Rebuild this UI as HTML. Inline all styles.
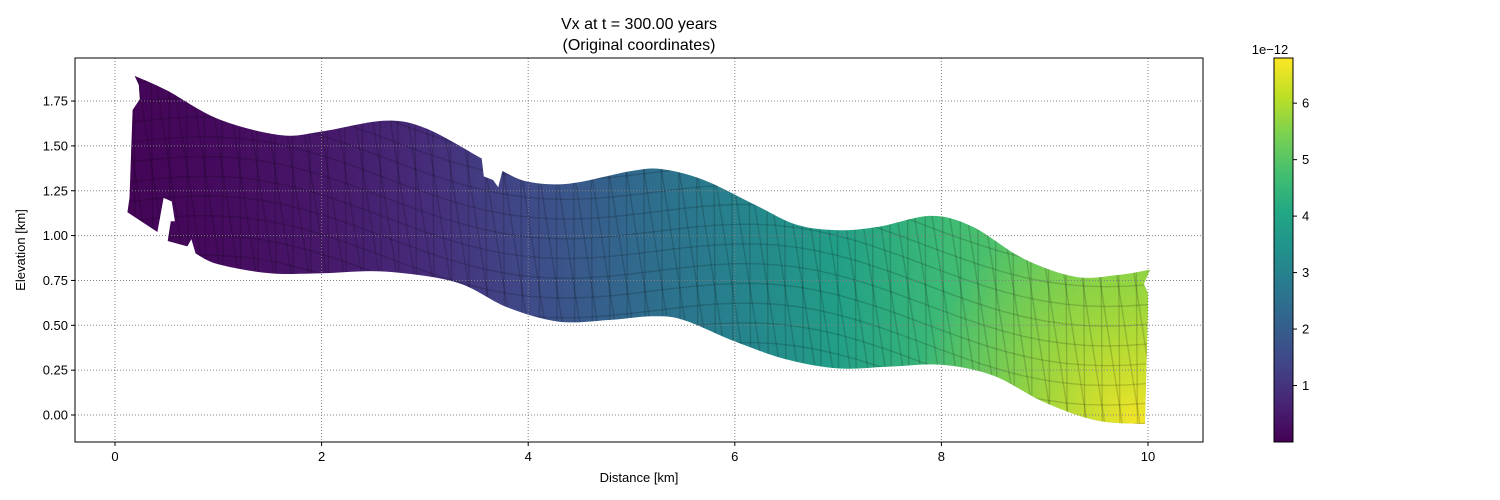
<!DOCTYPE html>
<html><head><meta charset="utf-8"><style>
html,body{margin:0;padding:0;background:#fff;overflow:hidden;width:1500px;height:500px;}
svg{display:block;font-family:"Liberation Sans",sans-serif;}
</style></head><body>
<svg id="chart" width="1500" height="500" viewBox="0 0 1500 500">
<defs>
<linearGradient id="vgrad" gradientUnits="userSpaceOnUse" x1="115" y1="0" x2="1148" y2="0"></linearGradient>
<radialGradient id="ygrad" gradientUnits="userSpaceOnUse" cx="1140" cy="425" r="230">
<stop offset="0" stop-color="#fde725" stop-opacity="0.95"/>
<stop offset="0.5" stop-color="#d9e21b" stop-opacity="0.45"/>
<stop offset="1" stop-color="#bddf26" stop-opacity="0"/>
</radialGradient>
<linearGradient id="cbgrad" x1="0" y1="1" x2="0" y2="0">
<stop offset="0" stop-color="#440154"/><stop offset="0.1" stop-color="#482475"/>
<stop offset="0.2" stop-color="#414487"/><stop offset="0.3" stop-color="#355f8d"/>
<stop offset="0.4" stop-color="#2a788e"/><stop offset="0.5" stop-color="#21918c"/>
<stop offset="0.6" stop-color="#22a884"/><stop offset="0.7" stop-color="#44bf70"/>
<stop offset="0.8" stop-color="#7ad151"/><stop offset="0.9" stop-color="#bddf26"/>
<stop offset="1" stop-color="#fde725"/>
</linearGradient>
<clipPath id="bandclip"><path id="clipPath"/></clipPath>
</defs>
<text x="639" y="29" font-size="16" text-anchor="middle">Vx at t = 300.00 years</text>
<text x="639" y="50" font-size="16" text-anchor="middle">(Original coordinates)</text>
<g id="plot"></g>
<rect x="75" y="58" width="1128" height="384" fill="none" stroke="#000" stroke-width="1"/>
<text x="639" y="482" font-size="13" text-anchor="middle">Distance [km]</text>
<text transform="translate(25,250) rotate(-90)" font-size="13" text-anchor="middle">Elevation [km]</text>
<rect x="1274" y="58" width="19" height="384" fill="url(#cbgrad)" stroke="#000" stroke-width="1"/>
<text x="1270" y="54" font-size="13" text-anchor="middle">1e−12</text>
<g id="cbticks"></g>
</svg>
<script>
const xTicks=[0,2,4,6,8,10];
const yTicks=[0.00,0.25,0.50,0.75,1.00,1.25,1.50,1.75];
const cbTicks=[1,2,3,4,5,6];
const cbMin=0.0, cbMax=6.8;
const topEdgeA=[[0.19,1.89],[0.5,1.81],[1.0,1.65],[1.6,1.56],[2.0,1.58],[2.6,1.64],[3.0,1.60],[3.55,1.43]];
const notch=[[3.57,1.33],[3.66,1.31],[3.71,1.27]];
const topEdgeB=[[3.75,1.36],[4.0,1.30],[4.4,1.29],[5.0,1.36],[5.3,1.37],[5.7,1.31],[6.2,1.17],[6.6,1.06],[7.0,1.03],[7.4,1.05],[7.9,1.11],[8.3,1.05],[8.8,0.87],[9.3,0.77],[9.7,0.78],[10.02,0.81]];
const rightEdge=[[9.96,0.73],[10.0,0.68],[10.0,0.60]];
const bottomEdge=[[9.97,-0.05],[9.5,-0.03],[9.0,0.07],[8.5,0.22],[8.0,0.28],[7.5,0.27],[7.0,0.26],[6.5,0.31],[6.0,0.41],[5.5,0.53],[5.2,0.55],[4.8,0.53],[4.3,0.52],[3.8,0.60],[3.3,0.74],[2.6,0.80],[2.0,0.79],[1.5,0.79],[1.0,0.84],[0.78,0.90]];
const leftEdge=[[0.74,0.98],[0.70,0.94],[0.51,0.97],[0.54,1.08],[0.58,1.08],[0.55,1.19],[0.47,1.21],[0.41,1.02],[0.12,1.13],[0.14,1.21],[0.17,1.70],[0.24,1.76],[0.23,1.84]];
const vxPos=[0,1,2,3,4,5,6,7,8,9,10];
const vx=[0.05,0.2,0.45,0.85,1.5,2.3,3.0,3.8,4.6,5.1,5.4];
const NS="http://www.w3.org/2000/svg";
const sx=v=>115+v*103.3;
const sy=v=>415-v*179.4;
const cb=v=>442-(v-cbMin)/(cbMax-cbMin)*384;
const vir=["#440154","#482475","#414487","#355f8d","#2a788e","#21918c","#22a884","#44bf70","#7ad151","#bddf26","#fde725"];
function hex(h){return [1,3,5].map(i=>parseInt(h.substr(i,2),16));}
function viridis(t){t=Math.max(0,Math.min(1,t));const f=t*10,i=Math.min(9,Math.floor(f)),r=f-i;const a=hex(vir[i]),b=hex(vir[i+1]);return "rgb("+a.map((c,k)=>Math.round(c+(b[k]-c)*r)).join(",")+")";}
function el(tag,attrs,parent){const e=document.createElementNS(NS,tag);for(const k in attrs)e.setAttribute(k,attrs[k]);parent.appendChild(e);return e;}
const vg=document.getElementById('vgrad');
vxPos.forEach((p,i)=>{el('stop',{offset:p/10,'stop-color':viridis(vx[i]/cbMax)},vg);});
const plot=document.getElementById('plot');
const f=v=>v.toFixed(1);
function smooth(arr){const P=arr.map(p=>[sx(p[0]),sy(p[1])]);let d="L"+f(P[0][0])+","+f(P[0][1]);
for(let i=0;i<P.length-1;i++){const p0=P[Math.max(0,i-1)],p1=P[i],p2=P[i+1],p3=P[Math.min(P.length-1,i+2)];
d+="C"+f(p1[0]+(p2[0]-p0[0])/6)+","+f(p1[1]+(p2[1]-p0[1])/6)+" "+f(p2[0]-(p3[0]-p1[0])/6)+","+f(p2[1]-(p3[1]-p1[1])/6)+" "+f(p2[0])+","+f(p2[1]);}return d;}
function straight(arr){return arr.map(p=>"L"+f(sx(p[0]))+","+f(sy(p[1]))).join("");}
let d="M"+f(sx(topEdgeA[0][0]))+","+f(sy(topEdgeA[0][1]))+smooth(topEdgeA)+straight(notch)+smooth(topEdgeB)+straight(rightEdge)+smooth(bottomEdge)+straight(leftEdge)+"Z";
document.getElementById('clipPath').setAttribute('d',d);
const band=el('path',{d:d,fill:'url(#vgrad)'},plot);


const yo=el('rect',{x:75,y:58,width:1128,height:384,fill:'url(#ygrad)','clip-path':'url(#bandclip)'},plot);


const mesh=el('g',{'clip-path':'url(#bandclip)',stroke:'#000','stroke-opacity':'0.16','stroke-width':'1.4',fill:'none'},plot);


for(let x=-0.5;x<=10.4;x+=0.17){el('line',{x1:sx(x),y1:50,x2:sx(x+0.03),y2:450},mesh);el('line',{x1:sx(x),y1:50,x2:sx(x+0.6),y2:450},mesh);}
for(let k=-2;k<=2.2;k+=0.11){let p="";for(let x=0;x<=10.2;x+=0.2){const y=1.2+k-0.45*x/10*1.6+0.12*Math.sin(x*1.2);p+=(p?"L":"M")+sx(x).toFixed(1)+","+sy(y).toFixed(1);}el('path',{d:p},mesh);}
const grid=el('g',{stroke:'#808080','stroke-width':'1','stroke-dasharray':'1,2'},plot);


xTicks.forEach(t=>{el('line',{x1:sx(t),y1:58,x2:sx(t),y2:442},grid);
el('line',{x1:sx(t),y1:442,x2:sx(t),y2:446,stroke:'#000'},plot);
const lb=el('text',{x:sx(t),y:461,'font-size':13,'text-anchor':'middle'},plot);lb.textContent=t;

});
yTicks.forEach(t=>{el('line',{x1:75,y1:sy(t),x2:1203,y2:sy(t)},grid);
el('line',{x1:71,y1:sy(t),x2:75,y2:sy(t),stroke:'#000'},plot);
const lb=el('text',{x:68,y:sy(t)+4.5,'font-size':13,'text-anchor':'end'},plot);lb.textContent=t.toFixed(2);

});
const cbt=document.getElementById('cbticks');
cbTicks.forEach(t=>{el('line',{x1:1293,y1:cb(t),x2:1297,y2:cb(t),stroke:'#000'},cbt);
const lb=el('text',{x:1302,y:cb(t)+4.5,'font-size':13},cbt);lb.textContent=t;

});
</script>
</body></html>
